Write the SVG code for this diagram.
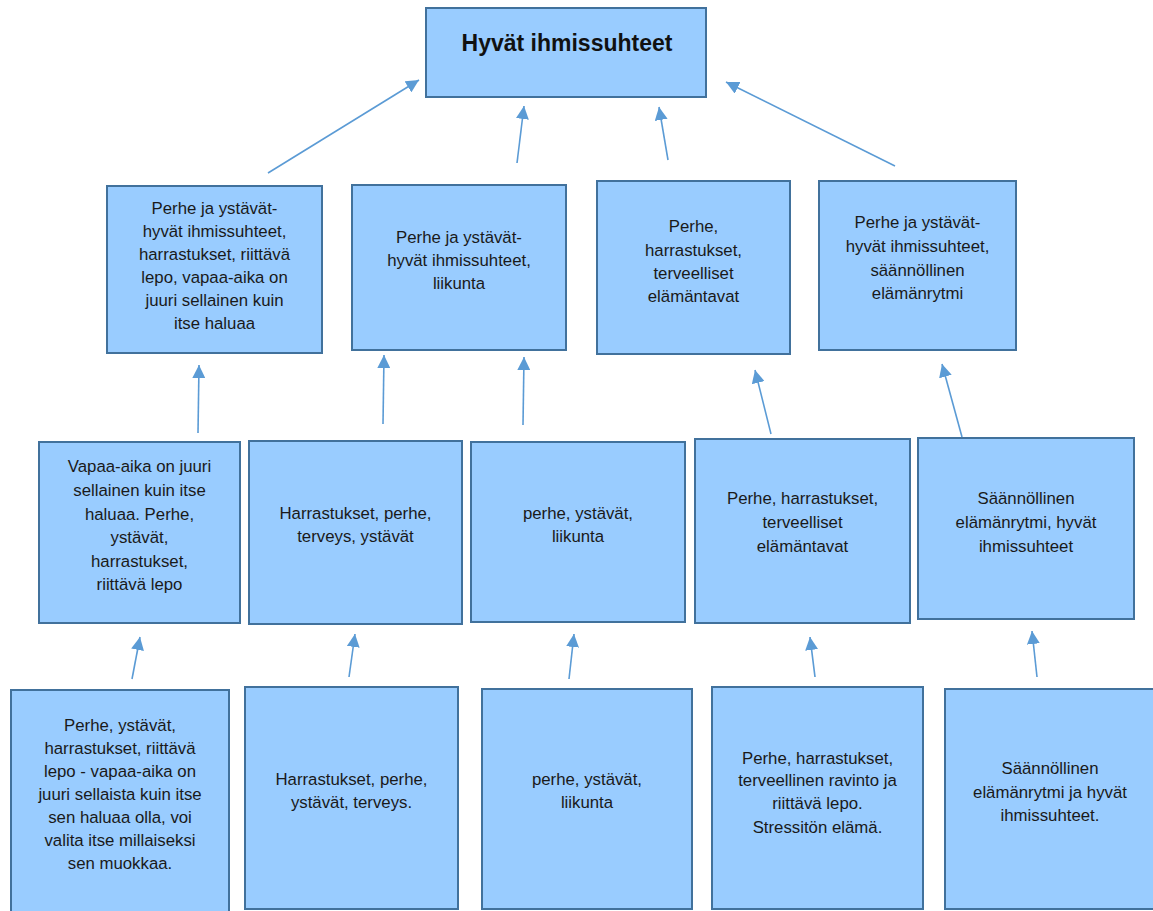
<svg xmlns="http://www.w3.org/2000/svg" width="1153" height="911" viewBox="0 0 1153 911">
  <style>
    .box { fill: #99CCFF; stroke: #41719C; stroke-width: 2; }
    .t { font-family: "Liberation Sans", Arial, sans-serif; font-size: 16.8px; fill: #1a1a1a; text-anchor: middle; }
    .title { font-family: "Liberation Sans", Arial, sans-serif; font-size: 23px; font-weight: bold; fill: #111; text-anchor: middle; }
    .conn line { stroke: #5B9BD5; stroke-width: 1.6; marker-end: url(#ah); }
  </style>
  <defs>
    <marker id="ah" viewBox="0 0 12 12" refX="12" refY="6" markerWidth="13" markerHeight="13" markerUnits="userSpaceOnUse" orient="auto">
      <path d="M0,0 L12,6 L0,12 z" fill="#5B9BD5"/>
    </marker>
  </defs>
  <rect width="1153" height="911" fill="#ffffff"/>

  <!-- top node -->
  <g id="top">
    <rect class="box" x="426" y="8" width="280" height="89"/>
    <text class="title" x="567" y="51">Hyvät ihmissuhteet</text>
  </g>

  <!-- second row -->
  <g id="r2a">
    <rect class="box" x="107" y="186" width="215" height="167"/>
    <text class="t" x="214.5" y="214">Perhe ja ystävät-</text>
    <text class="t" x="214.5" y="237">hyvät ihmissuhteet,</text>
    <text class="t" x="214.5" y="260">harrastukset, riittävä</text>
    <text class="t" x="214.5" y="283">lepo, vapaa-aika on</text>
    <text class="t" x="214.5" y="306">juuri sellainen kuin</text>
    <text class="t" x="214.5" y="329">itse haluaa</text>
  </g>
  <g id="r2b">
    <rect class="box" x="352" y="185" width="214" height="165"/>
    <text class="t" x="459" y="243">Perhe ja ystävät-</text>
    <text class="t" x="459" y="266">hyvät ihmissuhteet,</text>
    <text class="t" x="459" y="289">liikunta</text>
  </g>
  <g id="r2c">
    <rect class="box" x="597" y="181" width="193" height="173"/>
    <text class="t" x="693.5" y="232">Perhe,</text>
    <text class="t" x="693.5" y="256">harrastukset,</text>
    <text class="t" x="693.5" y="279">terveelliset</text>
    <text class="t" x="693.5" y="302">elämäntavat</text>
  </g>
  <g id="r2d">
    <rect class="box" x="819" y="181" width="197" height="169"/>
    <text class="t" x="917.5" y="228">Perhe ja ystävät-</text>
    <text class="t" x="917.5" y="252">hyvät ihmissuhteet,</text>
    <text class="t" x="917.5" y="276">säännöllinen</text>
    <text class="t" x="917.5" y="299">elämänrytmi</text>
  </g>

  <!-- third row -->
  <g id="r3a">
    <rect class="box" x="39" y="442" width="201" height="181"/>
    <text class="t" x="139.5" y="472">Vapaa-aika on juuri</text>
    <text class="t" x="139.5" y="496">sellainen kuin itse</text>
    <text class="t" x="139.5" y="520">haluaa. Perhe,</text>
    <text class="t" x="139.5" y="543">ystävät,</text>
    <text class="t" x="139.5" y="567">harrastukset,</text>
    <text class="t" x="139.5" y="590">riittävä lepo</text>
  </g>
  <g id="r3b">
    <rect class="box" x="249" y="441" width="213" height="183"/>
    <text class="t" x="355.5" y="519">Harrastukset, perhe,</text>
    <text class="t" x="355.5" y="542">terveys, ystävät</text>
  </g>
  <g id="r3c">
    <rect class="box" x="471" y="442" width="214" height="180"/>
    <text class="t" x="578" y="519">perhe, ystävät,</text>
    <text class="t" x="578" y="542">liikunta</text>
  </g>
  <g id="r3d">
    <rect class="box" x="695" y="439" width="215" height="184"/>
    <text class="t" x="802.5" y="504">Perhe, harrastukset,</text>
    <text class="t" x="802.5" y="528">terveelliset</text>
    <text class="t" x="802.5" y="552">elämäntavat</text>
  </g>
  <g id="r3e">
    <rect class="box" x="918" y="438" width="216" height="181"/>
    <text class="t" x="1026" y="504">Säännöllinen</text>
    <text class="t" x="1026" y="528">elämänrytmi, hyvät</text>
    <text class="t" x="1026" y="552">ihmissuhteet</text>
  </g>

  <!-- bottom row -->
  <g id="r4a">
    <rect class="box" x="11" y="690" width="218" height="230"/>
    <text class="t" x="120" y="731">Perhe, ystävät,</text>
    <text class="t" x="120" y="754">harrastukset, riittävä</text>
    <text class="t" x="120" y="777">lepo - vapaa-aika on</text>
    <text class="t" x="120" y="800">juuri sellaista kuin itse</text>
    <text class="t" x="120" y="823">sen haluaa olla, voi</text>
    <text class="t" x="120" y="846">valita itse millaiseksi</text>
    <text class="t" x="120" y="869">sen muokkaa.</text>
  </g>
  <g id="r4b">
    <rect class="box" x="245" y="687" width="213" height="222"/>
    <text class="t" x="351.5" y="785">Harrastukset, perhe,</text>
    <text class="t" x="351.5" y="808">ystävät, terveys.</text>
  </g>
  <g id="r4c">
    <rect class="box" x="482" y="689" width="210" height="220"/>
    <text class="t" x="587" y="785">perhe, ystävät,</text>
    <text class="t" x="587" y="808">liikunta</text>
  </g>
  <g id="r4d">
    <rect class="box" x="712" y="687" width="211" height="222"/>
    <text class="t" x="817.5" y="764">Perhe, harrastukset,</text>
    <text class="t" x="817.5" y="786">terveellinen ravinto ja</text>
    <text class="t" x="817.5" y="809">riittävä lepo.</text>
    <text class="t" x="817.5" y="833">Stressitön elämä.</text>
  </g>
  <g id="r4e">
    <rect class="box" x="945" y="689" width="210" height="220"/>
    <text class="t" x="1050" y="774">Säännöllinen</text>
    <text class="t" x="1050" y="798">elämänrytmi ja hyvät</text>
    <text class="t" x="1050" y="821">ihmissuhteet.</text>
  </g>

  <!-- connectors -->
  <g id="connectors" class="conn">
    <line x1="268" y1="173" x2="419" y2="80"/>
    <line x1="517" y1="163" x2="524" y2="106"/>
    <line x1="668" y1="160" x2="659" y2="107"/>
    <line x1="895" y1="166" x2="726" y2="82"/>
    <line x1="198" y1="433" x2="199" y2="365"/>
    <line x1="383" y1="424" x2="384" y2="355"/>
    <line x1="523" y1="425" x2="524" y2="357"/>
    <line x1="771" y1="434" x2="755" y2="370"/>
    <line x1="962" y1="437" x2="942" y2="364"/>
    <line x1="132" y1="679" x2="140" y2="637"/>
    <line x1="349" y1="677" x2="355" y2="634"/>
    <line x1="569" y1="679" x2="574" y2="634"/>
    <line x1="815" y1="677" x2="810" y2="637"/>
    <line x1="1037" y1="677" x2="1032" y2="631"/>
  </g>
</svg>
